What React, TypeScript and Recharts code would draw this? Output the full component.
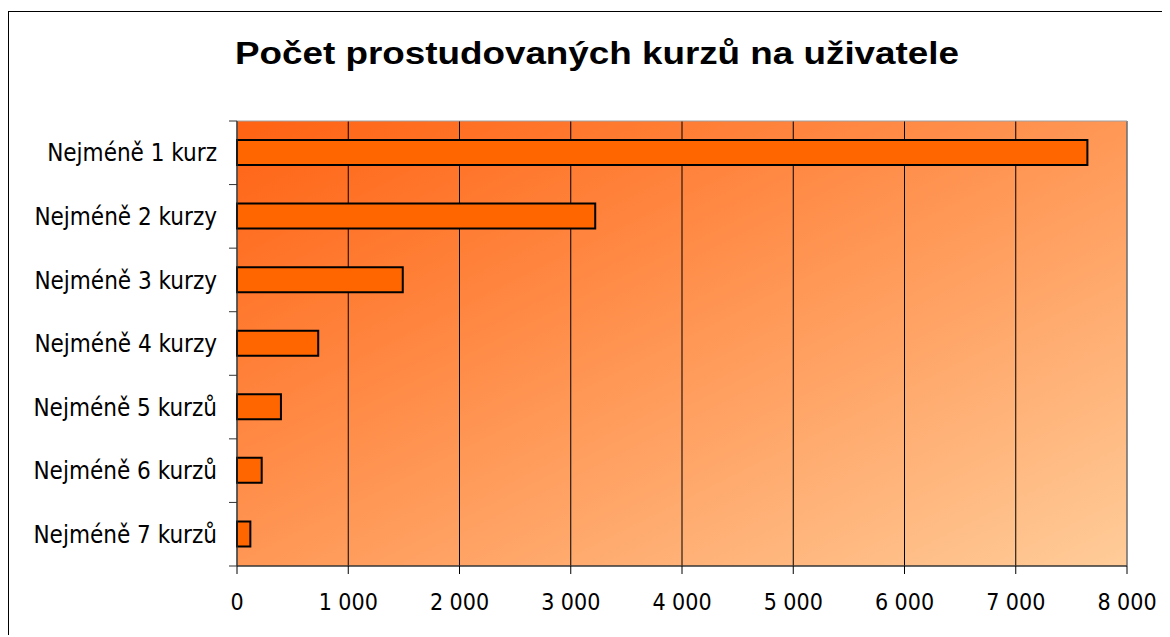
import React from 'react'
import {
    BarChart,
    Bar,
    XAxis,
    YAxis,
    CartesianGrid,
    ReferenceArea
} from 'recharts';

const title = "Počet prostudovaných kurzů na uživatele";

const categories = [
    "Nejméně 1 kurz",
    "Nejméně 2 kurzy",
    "Nejméně 3 kurzy",
    "Nejméně 4 kurzy",
    "Nejméně 5 kurzů",
    "Nejméně 6 kurzů",
    "Nejméně 7 kurzů",
];

const users = [7644, 3220, 1490, 730, 395, 222, 120];

const xTicks = [0, 1000, 2000, 3000, 4000, 5000, 6000, 7000, 8000];

const data = categories.map((name, i) => ({name, users: users[i]}));

const W = 1161;
const H = 625;
const margin = {top: 109, right: 43, left: 0, bottom: 31};
const yAxisWidth = 228;
const xAxisHeight = 40;
const plotHeight = H - margin.top - margin.bottom - xAxisHeight;
const band = plotHeight / categories.length;
const font = '"DejaVu Sans Condensed", "DejaVu Sans", sans-serif';

const formatNumber = (v: number) =>
    String(v).replace(/\B(?=(\d{3})+(?!\d))/g, ' ');

// excel puts the category ticks on band edges, not on the centre
const CategoryTick = (props: any) => {
    const {x, y, payload, index} = props;
    const axisX = yAxisWidth;
    return <g>
        <line x1={axisX - 8} x2={axisX} y1={y - band / 2} y2={y - band / 2} stroke="#333" />
        {index === categories.length - 1 &&
            <line x1={axisX - 8} x2={axisX} y1={y + band / 2} y2={y + band / 2} stroke="#333" />}
        <text x={x} y={y} dy="0.36em" textAnchor="end" fill="#000"
              style={{fontFamily: font, fontSize: 24}}>
            {payload.value}
        </text>
    </g>;
};

export default function App() {
    return <div style={{
        position: 'relative', top: 3, width: 1162, height: 626,
        borderLeft: '1px solid #000', borderTop: '1px solid #000', background: '#fff'
    }}>
        <div style={{
            position: 'absolute', top: 25, left: 0, width: 1176, textAlign: 'center',
            fontFamily: '"Liberation Sans", Arial, sans-serif', fontWeight: 'bold',
            fontSize: 32, lineHeight: '32px', color: '#000',
            transform: 'scaleX(1.15)'
        }}>
            {title}
        </div>
        <BarChart width={W} height={H} data={data} layout="vertical" margin={margin}
                  barSize={25}>
            <defs>
                <linearGradient id="bg" x1="0" y1="0" x2="1" y2="1">
                    <stop offset="0%" stopColor="#FF6212" />
                    <stop offset="100%" stopColor="#FFCC99" />
                </linearGradient>
            </defs>
            <CartesianGrid horizontal={false} stroke="#000" fill="url(#bg)" fillOpacity={1} />
            <ReferenceArea x1={0} x2={8000} fill="none" stroke="#a0a0a0" strokeWidth={1} />
            <XAxis type="number" domain={[0, 8000]} ticks={xTicks} interval={0}
                   height={xAxisHeight} tickSize={8} tickMargin={20}
                   tickFormatter={formatNumber}
                   axisLine={{stroke: '#000'}} tickLine={{stroke: '#000'}}
                   tick={{fill: '#000', fontSize: 23, fontFamily: font}} />
            <YAxis type="category" dataKey="name" width={yAxisWidth} interval={0}
                   tickSize={8} tickMargin={12} tickLine={false}
                   axisLine={{stroke: '#333'}} tick={<CategoryTick />} />
            <Bar dataKey="users" fill="#FF6600" stroke="#000" strokeWidth={2}
                 isAnimationActive={false} />
        </BarChart>
    </div>;
}
